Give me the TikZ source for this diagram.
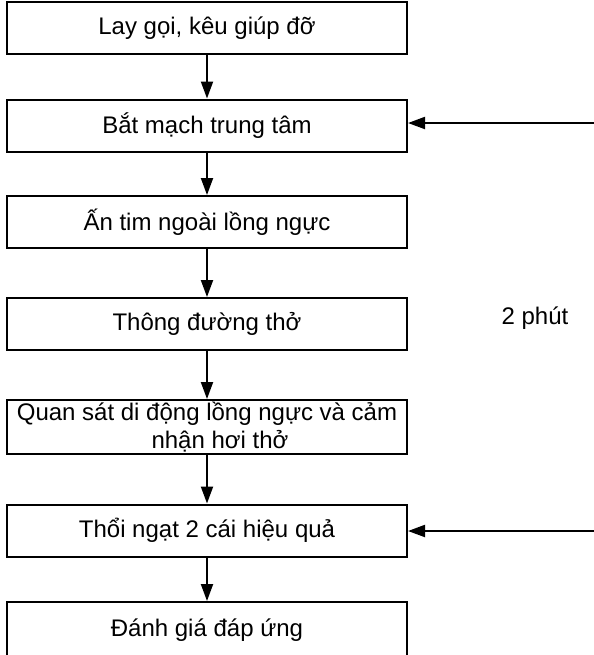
\documentclass[tikz,border=0pt]{standalone}
\usepackage{fontspec}
\setmainfont{Liberation Sans}
\usetikzlibrary{arrows.meta}

\tikzset{
  buoc/.style={draw, line width=1pt, minimum width=200pt, minimum height=26pt,
               inner sep=0pt, align=center, font=\fontsize{12}{14}\selectfont},
  muiten/.style={-{Triangle[length=8.5pt,width=6pt]}, line width=1pt}
}

\begin{document}
\begin{tikzpicture}[x=0.5pt,y=-0.5pt]
\useasboundingbox (0,0) rectangle (594,655);

% Cac buoc cap cuu
\node[buoc] (lay) at (207,28) {Lay gọi, kêu giúp đỡ};
\node[buoc] (batmach) at (207,125.5) {Bắt mạch trung tâm};
\node[buoc] (antim) at (207,222) {Ấn tim ngoài lồng ngực};
\node[buoc] (thong) at (207,324) {Thông đường thở};
\node[buoc, minimum height=27pt] (quansat) at (207,427) {Quan sát di động lồng ngực và cảm\\ \hspace*{13pt}nhận hơi thở};
\node[buoc] (thoi) at (207,530.5) {Thổi ngạt 2 cái hiệu quả};
\node[buoc, minimum height=28pt] (danhgia) at (207,630) {Đánh giá đáp ứng};

% Mui ten giua cac buoc
\foreach \a/\b in {lay/batmach, batmach/antim, antim/thong, thong/quansat, quansat/thoi, thoi/danhgia}
    \draw[muiten] (\a) -- (\b);

% Vong lai sau 2 phut
\coordinate (vao1) at (594,123);
\coordinate (vao2) at (594,531);
\draw[muiten] (vao1) -- (vao1 -| batmach.east);
\draw[muiten] (vao2) -- (vao2 -| thoi.east);
\node[font=\fontsize{12}{14}\selectfont] (haiphut) at (535,318) {2 phút};

\end{tikzpicture}
\end{document}
